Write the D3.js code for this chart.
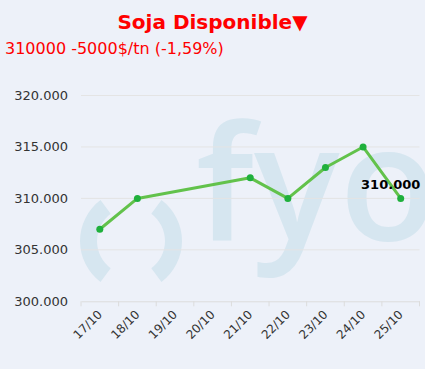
<!DOCTYPE html>
<html><head><meta charset="utf-8">
<script src="https://cdn.jsdelivr.net/npm/d3@7"></script>
<style>html,body{margin:0;padding:0;background:#edf1f9;}svg{display:block;}</style>
</head><body>
<script>
const categories = ["17/10","18/10","19/10","20/10","21/10","22/10","23/10","24/10","25/10"];
const values = [307000, 310000, null, null, 312000, 310000, 313000, 315000, 310000];
const yTicks = [300000, 305000, 310000, 315000, 320000];
const titleText = "Soja Disponible▼";
const subtitleText = "310000 -5000$/tn (-1,59%)";
const lastLabel = "310.000";

(function(){
const W = 425, H = 369;
const svg = d3.select("body").append("svg").attr("width", W).attr("height", H);
svg.append("rect").attr("width", W).attr("height", H).attr("fill", "#edf1f9");

const pLeft = 81, pRight = 419.5, pTop = 95.5, pBottom = 301.3;
const x = d3.scaleBand().domain(categories).range([pLeft, pRight]);
const y = d3.scaleLinear().domain([300000, 320000]).range([pBottom, pTop]);
const fmt = d => d3.format(",.3f")(d / 1000).replace(",", "");
const fmtDot = d => fmt(d).replace(".", "#").replace("#", ".");

// watermark
const wm = svg.append("g").attr("fill", "#d6e6f0");
const arc = d3.arc().innerRadius(34).outerRadius(51);
wm.append("path").attr("transform", "translate(131,241)")
  .attr("d", arc({startAngle: -Math.PI/2 - 0.93, endAngle: -Math.PI/2 + 0.93}));
wm.append("path").attr("transform", "translate(131,241)")
  .attr("d", arc({startAngle: Math.PI/2 - 0.93, endAngle: Math.PI/2 + 0.93}));
wm.append("text").attr("x", 196).attr("y", 240)
  .attr("font-family", "Open Sans").attr("font-weight", 600).attr("font-size", 160)
  .text("fyo");

// gridlines
svg.append("g").selectAll("line").data(yTicks.slice(1)).join("line")
  .attr("x1", pLeft).attr("x2", pRight)
  .attr("y1", d => y(d)).attr("y2", d => y(d))
  .attr("stroke", "#e4e4e4").attr("stroke-width", 1);

// y labels
svg.append("g").selectAll("text").data(yTicks).join("text")
  .attr("x", 68).attr("y", d => y(d) + 4.5)
  .attr("text-anchor", "end")
  .attr("font-family", "DejaVu Sans").attr("font-size", 13).attr("fill", "#333")
  .text(d => fmtDot(d));

// x axis
const xAxis = d3.axisBottom(x).tickSize(0).tickPadding(0);
const gx = svg.append("g").attr("transform", `translate(0,${pBottom})`).call(xAxis);
gx.select(".domain").attr("stroke", "#dcdcdc");
gx.selectAll(".tick text").remove();
const bounds = categories.map(c => x(c)).concat([pRight]);
gx.selectAll("line.b").data(bounds).join("line").attr("class", "b")
  .attr("x1", d => d).attr("x2", d => d).attr("y1", 0).attr("y2", 5)
  .attr("stroke", "#dcdcdc");
svg.append("g").selectAll("text").data(categories).join("text")
  .attr("transform", d => `translate(${x(d) + x.bandwidth()/2 + 3},${pBottom + 14}) rotate(-45)`)
  .attr("text-anchor", "end")
  .attr("font-family", "DejaVu Sans").attr("font-size", 12).attr("fill", "#333")
  .text(d => d);

// line
const pts = categories.map((c, i) => ({c, v: values[i]})).filter(d => d.v != null);
const line = d3.line().x(d => x(d.c) + x.bandwidth()/2).y(d => y(d.v));
svg.append("path").datum(pts).attr("d", line)
  .attr("fill", "none").attr("stroke", "#62c24b").attr("stroke-width", 3)
  .attr("stroke-linejoin", "round");
svg.append("g").selectAll("circle").data(pts).join("circle")
  .attr("cx", d => x(d.c) + x.bandwidth()/2).attr("cy", d => y(d.v)).attr("r", 3.5)
  .attr("fill", "#1fb03c");

// last label
const last = pts[pts.length - 1];
svg.append("text")
  .attr("x", x(last.c) + x.bandwidth()/2 - 10).attr("y", y(last.v) - 9)
  .attr("text-anchor", "middle")
  .attr("font-family", "DejaVu Sans").attr("font-weight", "bold").attr("font-size", 13)
  .attr("fill", "#000").text(lastLabel);

// titles
svg.append("text").attr("x", W/2).attr("y", 29).attr("text-anchor", "middle")
  .attr("font-family", "DejaVu Sans").attr("font-weight", "bold").attr("font-size", 20)
  .attr("fill", "#ff0000").text(titleText);
svg.append("text").attr("x", 5).attr("y", 54)
  .attr("font-family", "DejaVu Sans").attr("font-size", 16)
  .attr("fill", "#ff0000").text(subtitleText);
})();
</script>
</body></html>
